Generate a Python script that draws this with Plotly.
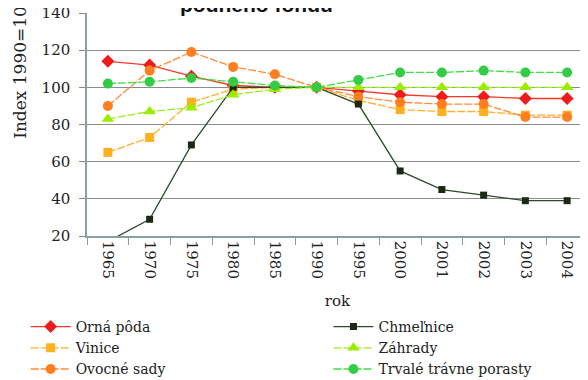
import plotly.graph_objects as go

years = ["1965", "1970", "1975", "1980", "1985", "1990", "1995",
         "2000", "2001", "2002", "2003", "2004"]

orna_poda = [114, 112, 106, 101, 100, 100, 98, 96, 95, 95, 94, 94]
chmelnice = [17, 29, 69, 100, 100, 100, 91, 55, 45, 42, 39, 39]
vinice = [65, 73, 92, 99, 100, 100, 93, 88, 87, 87, 85, 85]
zahrady = [83, 87, 89, 96, 99, 100, 100, 100, 100, 100, 100, 100]
ovocne_sady = [90, 109, 119, 111, 107, 100, 95, 92, 91, 91, 84, 84]
trvale_porasty = [102, 103, 105, 103, 101, 100, 104, 108, 108, 109, 108, 108]

y_ticks = [20, 40, 60, 80, 100, 120, 140]

SERIF = "DejaVu Serif"

fig = go.Figure()


def add_series(name, values, line_color, marker_color, symbol, size, dash, legend):
    fig.add_trace(go.Scatter(
        x=years, y=values, name=name, mode="lines+markers",
        line=dict(color=line_color, width=1.3, dash=dash),
        marker=dict(color=marker_color, symbol=symbol, size=size),
        legend=legend,
    ))


# left legend column
add_series("Orná pôda", orna_poda, "#f03a2a", "#ee1c1c", "diamond", 10, "solid", "legend")
add_series("Vinice", vinice, "#ffb030", "#ffb020", "square", 9, "8px,2px", "legend")
add_series("Ovocné sady", ovocne_sady, "#ff8a3a", "#ff7f20", "circle", 10, "8px,2px", "legend")
# right legend column
add_series("Chmeľnice", chmelnice, "#2e4a2e", "#1c2a14", "square", 7, "solid", "legend2")
add_series("Záhrady", zahrady, "#99ee22", "#99ee00", "triangle-up", 11, "8px,2px", "legend2")
add_series("Trvalé trávne porasty", trvale_porasty, "#44dd44", "#33cc44", "circle", 10, "8px,2px", "legend2")

leg_y = 1 - 303 / 380

fig.update_layout(
    width=588, height=380,
    margin=dict(l=79, r=8, t=5, b=152, autoexpand=False),
    paper_bgcolor="white", plot_bgcolor="white",
    font=dict(family=SERIF, size=15, color="#222"),
    showlegend=True,
    legend=dict(xref="container", yref="container", x=0.03, y=leg_y,
                xanchor="left", yanchor="top", itemwidth=40, tracegroupgap=0,
                font=dict(family=SERIF, size=14), bgcolor="rgba(0,0,0,0)"),
    legend2=dict(xref="container", yref="container", x=0.545, y=leg_y,
                 xanchor="left", yanchor="top", itemwidth=40, tracegroupgap=0,
                 font=dict(family=SERIF, size=14), bgcolor="rgba(0,0,0,0)"),
)

fig.update_xaxes(
    type="category", categoryorder="array", categoryarray=years,
    range=[-0.5, 11.5], tickangle=90, tickson="boundaries", automargin=False,
    ticks="outside", ticklen=7, tickcolor="#8aa0a0",
    showline=True, linecolor="#8aa0a0", linewidth=1.5,
    showgrid=False, tickfont=dict(family=SERIF, size=15),
    title=dict(text="rok", font=dict(family=SERIF, size=15), standoff=18),
)

fig.update_yaxes(
    range=[20, 140], tickvals=y_ticks, ticks="outside", ticklen=6, automargin=False,
    ticklabelstandoff=6, ticklabeloverflow="allow",
    tickcolor="#888", showline=True, linecolor="#8aa0a0", linewidth=1.5,
    showgrid=True, gridcolor="#8c8c8c", gridwidth=1.2, zeroline=False,
    tickfont=dict(family=SERIF, size=15),
)

# chart title, only its lower part is inside the picture
fig.add_annotation(
    text="<b>pôdneho fondu</b>", showarrow=False,
    xref="paper", yref="paper", x=0.339, y=0.976, xanchor="center", yanchor="bottom",
    font=dict(family="Liberation Sans", size=21, color="#111"),
)

# y-axis title (cut off at the top, as in the source image)
fig.add_annotation(
    text="Index 1990=100", textangle=-90, showarrow=False,
    xref="paper", yref="paper", x=-0.134, y=0.758, xanchor="center", yanchor="middle",
    font=dict(family=SERIF, size=17, color="#222"),
)

fig.write_html("out.html")
